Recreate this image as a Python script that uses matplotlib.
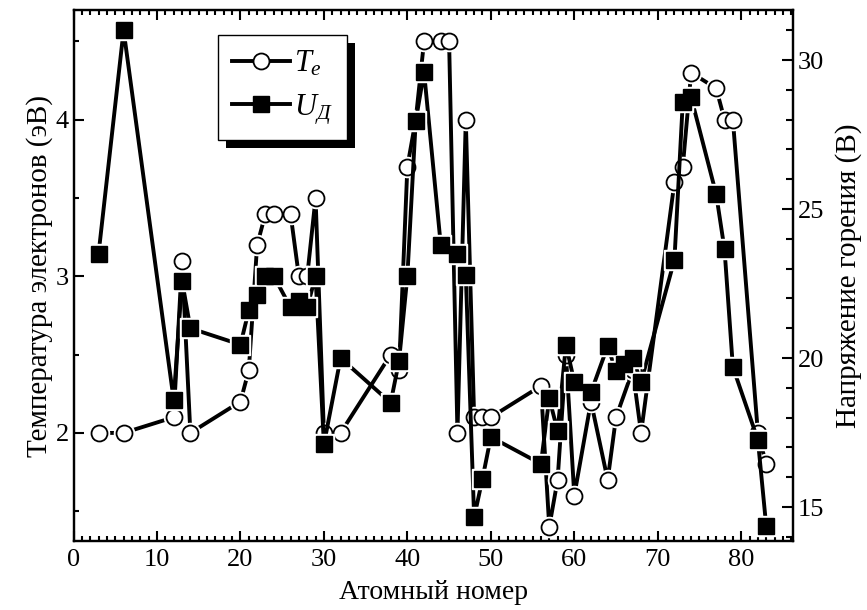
import matplotlib
matplotlib.use("Agg")
import matplotlib.pyplot as plt
from matplotlib.lines import Line2D
from matplotlib.patches import Rectangle
from matplotlib.transforms import IdentityTransform
from matplotlib.ticker import MultipleLocator

plt.rcParams['font.family'] = ['Liberation Serif', 'DejaVu Serif']
plt.rcParams['mathtext.fontset'] = 'custom'
plt.rcParams['mathtext.it'] = 'Liberation Serif:italic'
plt.rcParams['mathtext.rm'] = 'Liberation Serif'

# electron temperature, eV (left axis)
te_z = [3, 6, 12, 13, 14, 20, 21, 22, 23, 24, 26, 27, 28, 29, 30, 32, 38, 39, 40, 41,
        42, 44, 45, 46, 47, 48, 49, 50, 56, 57, 58, 59, 60, 62, 64, 65, 67, 68, 72, 73,
        74, 77, 78, 79, 82, 83]
te = [2.0, 2.0, 2.1, 3.1, 2.0, 2.2, 2.4, 3.2, 3.4, 3.4, 3.4, 3.0, 3.0, 3.5, 2.0, 2.0, 2.5, 2.4, 3.7, 4.0,
      4.5, 4.5, 4.5, 2.0, 4.0, 2.1, 2.1, 2.1, 2.3, 1.4, 1.7, 2.5, 1.6, 2.2, 1.7, 2.1, 2.4, 2.0, 3.6, 3.7,
      4.3, 4.2, 4.0, 4.0, 2.0, 1.8]

# discharge voltage, V (right axis)
ud_z = [3, 6, 12, 13, 14, 20, 21, 22, 23, 24, 26, 27, 28, 29, 30, 32, 38, 39, 40, 41,
        42, 44, 46, 47, 48, 49, 50, 56, 57, 58, 59, 60, 62, 64, 65, 66, 67, 68, 72, 73,
        74, 77, 78, 79, 82, 83]
ud = [23.5, 31.0, 18.6, 22.6, 21.0, 20.45, 21.6, 22.1, 22.75, 22.75, 21.7, 21.9, 21.7, 22.75, 17.1, 20.0, 18.5, 19.9, 22.75, 27.95,
      29.6, 23.8, 23.5, 22.8, 14.65, 15.95, 17.35, 16.45, 18.65, 17.55, 20.45, 19.2, 18.85, 20.4, 19.55, 19.8, 20.0, 19.2, 23.3, 28.6,
      28.75, 25.5, 23.65, 19.7, 17.25, 14.35]

fig = plt.figure(figsize=(8.67, 6.10), dpi=100)
ax = fig.add_axes([0.0848, 0.1131, 0.8298, 0.8705])
ax2 = ax.twinx()

lw = 2.8
ms = 11.5

# lines, then white halos to leave small gaps, then markers
ax.plot(te_z, te, color='black', lw=lw, zorder=1)
ax.plot(te_z, te, ls='none', marker='o', ms=ms + 3, mfc='white', mec='white', zorder=2)
ax.plot(te_z, te, ls='none', marker='o', ms=ms, mfc='white', mec='black', mew=1.3, zorder=3)

ax2.plot(ud_z, ud, color='black', lw=lw, zorder=1)
ax2.plot(ud_z, ud, ls='none', marker='s', ms=ms + 2.5, mfc='white', mec='white', zorder=2)
ax2.plot(ud_z, ud, ls='none', marker='s', ms=ms - 0.5, mfc='black', mec='black', zorder=3)

ax.set_xlim(0, 86.2)
ax.set_ylim(1.31, 4.70)
ax2.set_ylim(13.86, 31.68)

ax.xaxis.set_major_locator(MultipleLocator(10))
ax.xaxis.set_minor_locator(MultipleLocator(1))
ax.yaxis.set_major_locator(MultipleLocator(1))
ax.yaxis.set_minor_locator(MultipleLocator(0.5))
ax2.yaxis.set_major_locator(MultipleLocator(5))
ax2.yaxis.set_minor_locator(MultipleLocator(1))

ax.tick_params(axis='x', which='both', direction='in', top=True, labelsize=19, width=1.5, pad=6)
ax.tick_params(axis='y', which='both', direction='in', right=False, labelsize=19, width=1.5)
ax.tick_params(which='major', length=7)
ax.tick_params(which='minor', length=3.5)
ax2.tick_params(axis='y', which='both', direction='in', labelsize=19, width=1.5)
ax2.tick_params(which='major', length=8)
ax2.tick_params(which='minor', length=5)

for a in (ax, ax2):
    for s in a.spines.values():
        s.set_linewidth(1.6)

ax.set_xlabel('Атомный номер', fontsize=20, labelpad=6)
ax.set_ylabel('Температура электронов (эВ)', fontsize=21, labelpad=2)
ax2.set_ylabel('Напряжение горения (В)', fontsize=21, labelpad=8)

handles = [
    Line2D([], [], color='black', lw=lw, marker='o', ms=ms, mfc='white', mec='black', mew=1.3),
    Line2D([], [], color='black', lw=lw, marker='s', ms=ms - 0.5, mfc='black', mec='black'),
]
leg = ax2.legend(handles, [r'$T_e$', r'$U_{Д}$'], loc='upper left',
                 bbox_to_anchor=(0.2008, 0.953), borderaxespad=0, fontsize=22,
                 handlelength=1.9, handletextpad=0.15, labelspacing=0.45,
                 fancybox=False, framealpha=1, edgecolor='black', borderpad=0.45)
leg.get_frame().set_linewidth(1.0)
leg.set_zorder(10)

# hard black drop shadow behind the legend box
fig.canvas.draw()
bb = leg.get_frame().get_window_extent()
shadow = Rectangle((bb.x0 + 8, bb.y0 - 8), bb.width, bb.height, transform=IdentityTransform(),
                   facecolor='black', edgecolor='none', zorder=9, clip_on=False)
ax2.add_artist(shadow)

fig.savefig('out.png', dpi=100)
